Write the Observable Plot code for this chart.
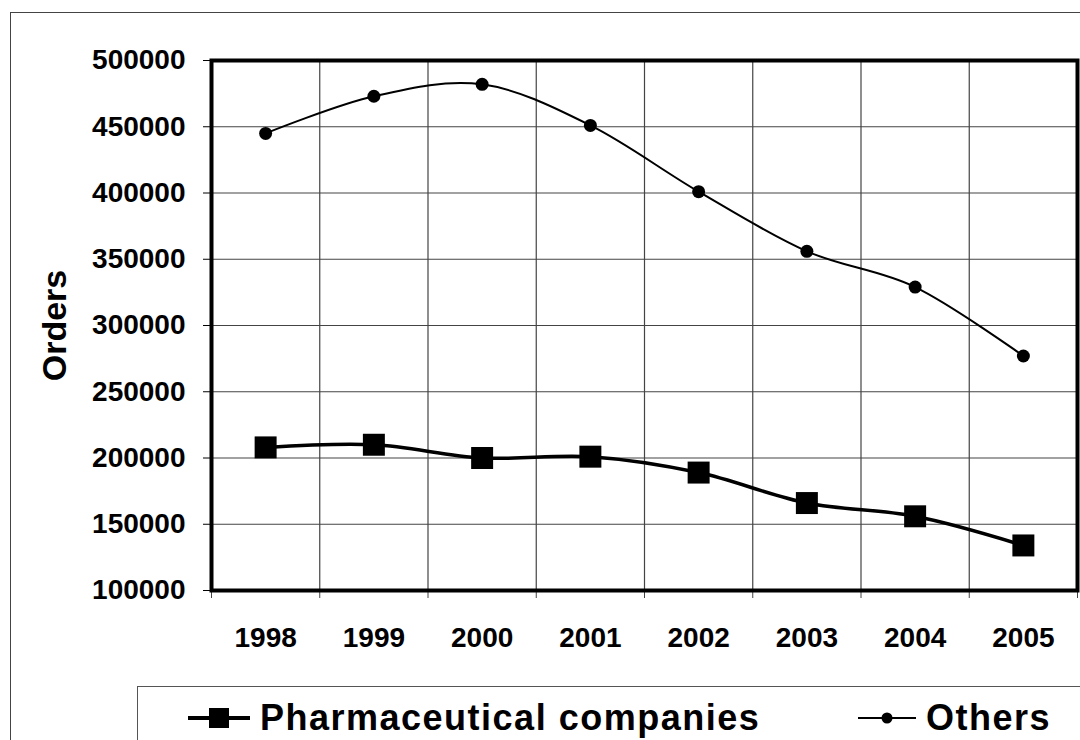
<!DOCTYPE html>
<html>
<head>
<meta charset="utf-8">
<script src="https://cdn.jsdelivr.net/npm/d3@7"></script>
<script src="https://cdn.jsdelivr.net/npm/@observablehq/plot@0.6"></script>
<style>
  html, body { margin: 0; padding: 0; background: #fff; overflow: hidden; }
  #wrap { position: relative; width: 1080px; height: 740px; font-family: "Liberation Sans", Arial, sans-serif; }
  #outer { position: absolute; left: 10px; top: 12px; width: 1100px; height: 760px; border: 1.5px solid #444; box-sizing: border-box; }
  #chart { position: absolute; left: 0; top: 0; }
  #legend { position: absolute; left: 137px; top: 686px; width: 1000px; height: 100px; border: 1.5px solid #555; box-sizing: border-box; background: #fff; }
  .item { position: absolute; top: 10px; display: flex; align-items: center; font-weight: bold; font-size: 36px; letter-spacing: 1.5px; color: #000; }
</style>
</head>
<body>
<div id="wrap">
  <div id="outer"></div>
  <div id="chart"></div>
  <div id="legend"></div>
</div>
<script>
const years = [1998, 1999, 2000, 2001, 2002, 2003, 2004, 2005];
const pharmaValues = [208000, 210000, 200000, 201000, 189000, 166000, 156000, 134000];
const othersValues = [445000, 473000, 482000, 451000, 401000, 356000, 329000, 277000];
const yTicks = [100000, 150000, 200000, 250000, 300000, 350000, 400000, 450000, 500000];
const seriesNames = ["Pharmaceutical companies", "Others"];
const yLabel = "Orders";

const pharma = years.map((yr, i) => ({year: yr, value: pharmaValues[i]}));
const others = years.map((yr, i) => ({year: yr, value: othersValues[i]}));
const bounds = years.map(y => y - 0.5).concat([years[years.length - 1] + 0.5]);

const chart = Plot.plot({
  width: 1080,
  height: 686,
  marginLeft: 211,
  marginRight: 3,
  marginTop: 60,
  marginBottom: 96,
  style: {fontFamily: "'Liberation Sans', Arial, sans-serif", color: "#000", background: "transparent"},
  x: {domain: [bounds[0], bounds[bounds.length - 1]]},
  y: {domain: [yTicks[0], yTicks[yTicks.length - 1]]},
  marks: [
    Plot.gridY(yTicks, {stroke: "#444", strokeOpacity: 1, strokeWidth: 1.2}),
    Plot.gridX(bounds, {stroke: "#444", strokeOpacity: 1, strokeWidth: 1.2}),
    Plot.axisY(yTicks, {tickSize: 8, tickPadding: 18, fontSize: 28, fontWeight: "bold", tickFormat: d => String(d), label: null}),
    Plot.axisX(bounds, {tickSize: 8, tickFormat: () => "", label: null, stroke: "#444"}),
    Plot.axisX(years, {tickSize: 0, tickPadding: 37, fontSize: 28, fontWeight: "bold", tickFormat: d => String(d), label: null}),
    Plot.text([yLabel], {frameAnchor: "left", textAnchor: "middle", lineAnchor: "middle", dx: -156, rotate: -90, fontSize: 34, fontWeight: "bold", fill: "#000"}),
    Plot.frame({stroke: "#000", strokeWidth: 4}),
    Plot.line(others, {x: "year", y: "value", curve: "cardinal", stroke: "#000", strokeWidth: 2}),
    Plot.dot(others, {x: "year", y: "value", r: 6.5, fill: "#000", stroke: null}),
    Plot.line(pharma, {x: "year", y: "value", curve: "cardinal", stroke: "#000", strokeWidth: 3.5}),
    Plot.dot(pharma, {x: "year", y: "value", symbol: "square", r: 12.4, fill: "#000", stroke: null})
  ]
});
document.getElementById("chart").appendChild(chart);

const legend = document.getElementById("legend");
const items = [
  {name: seriesNames[0], left: 50, sw: 4, square: true},
  {name: seriesNames[1], left: 720, sw: 2, square: false}
];
for (const it of items) {
  const div = document.createElement("div");
  div.className = "item";
  div.style.left = it.left + "px";
  const ns = "http://www.w3.org/2000/svg";
  const svg = document.createElementNS(ns, "svg");
  svg.setAttribute("width", it.square ? 62 : 58);
  svg.setAttribute("height", 40);
  svg.style.marginRight = "10px";
  const line = document.createElementNS(ns, "line");
  line.setAttribute("x1", 0); line.setAttribute("x2", it.square ? 62 : 58);
  line.setAttribute("y1", 20); line.setAttribute("y2", 20);
  line.setAttribute("stroke", "#000"); line.setAttribute("stroke-width", it.sw);
  svg.appendChild(line);
  if (it.square) {
    const r = document.createElementNS(ns, "rect");
    r.setAttribute("x", 21); r.setAttribute("y", 10); r.setAttribute("width", 20); r.setAttribute("height", 20);
    r.setAttribute("fill", "#000");
    svg.appendChild(r);
  } else {
    const c = document.createElementNS(ns, "circle");
    c.setAttribute("cx", 29); c.setAttribute("cy", 20); c.setAttribute("r", 5.5);
    c.setAttribute("fill", "#000");
    svg.appendChild(c);
  }
  div.appendChild(svg);
  const span = document.createElement("span");
  span.textContent = it.name;
  div.appendChild(span);
  legend.appendChild(div);
}
</script>
</body>
</html>
